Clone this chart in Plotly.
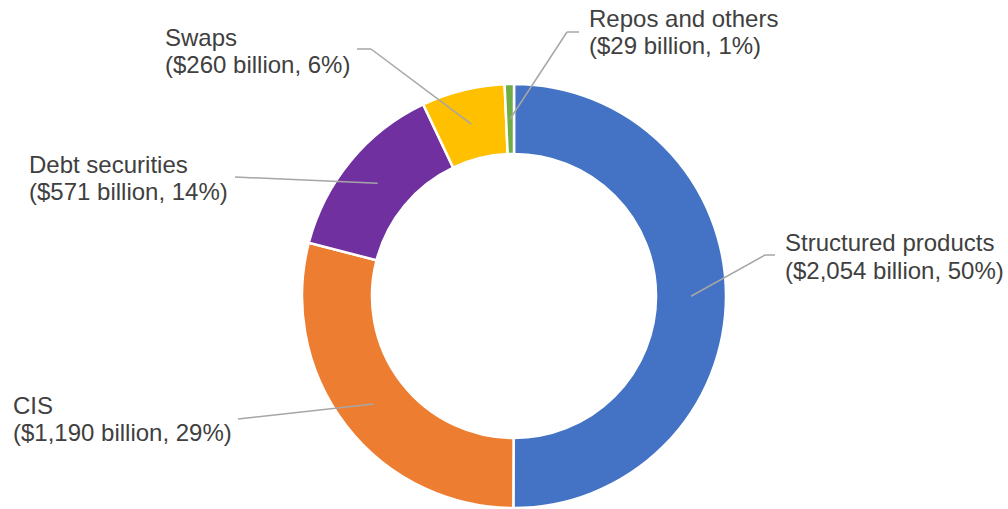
import math
import plotly.graph_objects as go

categories = ["Structured products", "CIS", "Debt securities", "Swaps", "Repos and others"]
values = [2054, 1190, 571, 260, 29]
pct_labels = ["50%", "29%", "14%", "6%", "1%"]
value_labels = ["$2,054", "$1,190", "$571", "$260", "$29"]
colors = ["#4472C4", "#ED7D31", "#7030A0", "#FFC000", "#70AD47"]

W, H = 1008, 509
CX, CY, R_OUT = 514, 296, 212
HOLE = 0.67
R_MID = R_OUT * (1 + HOLE) / 2

# label layout (pixel positions: text left x, line-1 middle y, line-2 middle y) and leader elbows
label_pos = [(783, 243, 270), (11, 405, 432), (27, 164, 191), (163, 37, 64), (587, 18, 45)]
elbows = [[(765, 255), (775, 255)],
          [(238, 419)],
          [(235, 177)],
          [(371, 49), (357, 49)],
          [(567, 32), (579, 32)]]

def px(x):
    return x / W

def py(y):
    return 1 - y / H

fig = go.Figure(go.Pie(
    labels=categories, values=values, hole=HOLE, sort=False,
    direction="clockwise", rotation=0,
    marker=dict(colors=colors, line=dict(color="white", width=2.5)),
    textinfo="none", hoverinfo="label+value+percent", showlegend=False,
    domain=dict(x=[px(CX - R_OUT), px(CX + R_OUT)], y=[py(CY + R_OUT), py(CY - R_OUT)]),
))

font = dict(family="Liberation Sans, Arial, sans-serif", size=24, color="#404040")
total = sum(values)
cum = 0
shapes = []
annotations = []
for i, v in enumerate(values):
    mid = (cum + v / 2) / total * 2 * math.pi
    cum += v
    sx = CX + R_MID * math.sin(mid)
    sy = CY - R_MID * math.cos(mid)
    pts = [(sx, sy)] + elbows[i]
    for (x0, y0), (x1, y1) in zip(pts[:-1], pts[1:]):
        shapes.append(dict(type="line", xref="paper", yref="paper",
                           x0=px(x0), y0=py(y0), x1=px(x1), y1=py(y1),
                           line=dict(color="#A6A6A6", width=1.5)))
    lx, ly1, ly2 = label_pos[i]
    for txt, ly in [(categories[i], ly1), (f"({value_labels[i]} billion, {pct_labels[i]})", ly2)]:
        annotations.append(dict(
            x=px(lx), y=py(ly), xref="paper", yref="paper", xanchor="left", yanchor="middle",
            align="left", showarrow=False, text=txt, font=font,
        ))

fig.update_layout(
    width=W, height=H, margin=dict(l=0, r=0, t=0, b=0),
    paper_bgcolor="white", plot_bgcolor="white",
    shapes=shapes, annotations=annotations,
)
fig.write_html("out.html", config={"displayModeBar": False},
               post_script="document.body.style.margin='0px';document.body.style.overflow='hidden';")
